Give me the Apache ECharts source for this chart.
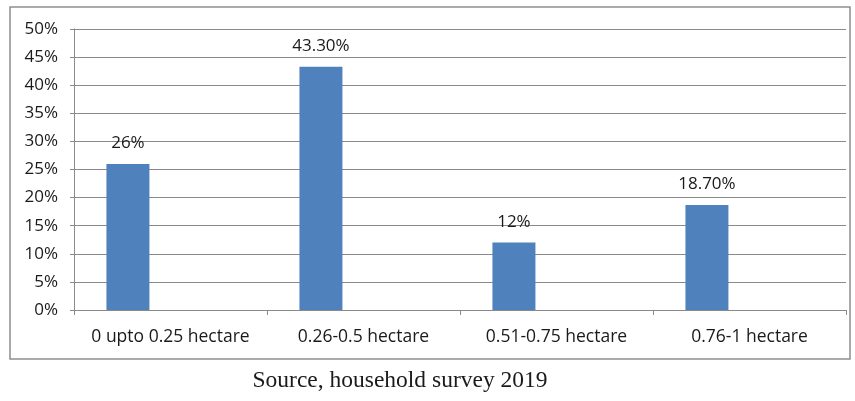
<!DOCTYPE html>
<html>
<head>
<meta charset="utf-8">
<script src="https://cdn.jsdelivr.net/npm/echarts@6/dist/echarts.min.js"></script>
<style>html,body{margin:0;padding:0;background:#fff}#c{width:855px;height:401px}</style>
</head>
<body>
<div id="c"></div>
<script>
const categories = ['0 upto 0.25 hectare', '0.26-0.5 hectare', '0.51-0.75 hectare', '0.76-1 hectare'];
const values = [26, 43.3, 12, 18.7];
const valueLabels = ['26%', '43.30%', '12%', '18.70%'];
const emptySeries = [null, null, null, null];
const yTicks = { min: 0, max: 50, interval: 5 };
const sourceText = 'Source, household survey 2019';

const chart = echarts.init(document.getElementById('c'));
const font = '"Open Sans", "Noto Sans", sans-serif';
chart.setOption({
  animation: false,
  grid: { left: 74, right: 9, top: 29, bottom: 91, containLabel: false },
  xAxis: {
    type: 'category',
    data: categories,
    axisLine: { lineStyle: { color: '#8a8a8a', width: 1 } },
    axisTick: { show: true, interval: 0, length: 5, lineStyle: { color: '#8a8a8a' } },
    axisLabel: { interval: 0, hideOverlap: false, color: '#1a1a1a', fontFamily: font, fontSize: 17.5, margin: 18 },
    splitLine: { show: false }
  },
  yAxis: {
    type: 'value',
    min: yTicks.min, max: yTicks.max, interval: yTicks.interval,
    axisLine: { show: true, lineStyle: { color: '#8a8a8a', width: 1 } },
    axisTick: { show: true, length: 4, lineStyle: { color: '#8a8a8a' } },
    axisLabel: { color: '#1a1a1a', fontFamily: font, fontSize: 17, margin: 16, formatter: '{value}%' },
    splitLine: { show: true, lineStyle: { color: '#8a8a8a', width: 1 } }
  },
  series: [
    {
      type: 'bar',
      data: values,
      barWidth: 43,
      barGap: '98%',
      itemStyle: { color: '#4f81bd' },
      label: {
        show: true, position: 'top', distance: 12,
        color: '#1a1a1a', fontFamily: font, fontSize: 17,
        formatter: p => valueLabels[p.dataIndex]
      }
    },
    {
      type: 'bar',
      data: emptySeries,
      barWidth: 43,
      itemStyle: { color: '#c0504d' }
    }
  ],
  graphic: [
    {
      type: 'rect', silent: true, z: -1,
      shape: { x: 10, y: 7, width: 840, height: 352 },
      style: { fill: 'none', stroke: '#8e8e8e', lineWidth: 1.5 }
    },
    {
      type: 'text', silent: true,
      x: 400, y: 381,
      style: {
        text: sourceText, fill: '#1a1a1a',
        font: '23.5px "Liberation Serif", "DejaVu Serif", serif',
        textAlign: 'center', textVerticalAlign: 'middle'
      }
    }
  ]
});
</script>
</body>
</html>
